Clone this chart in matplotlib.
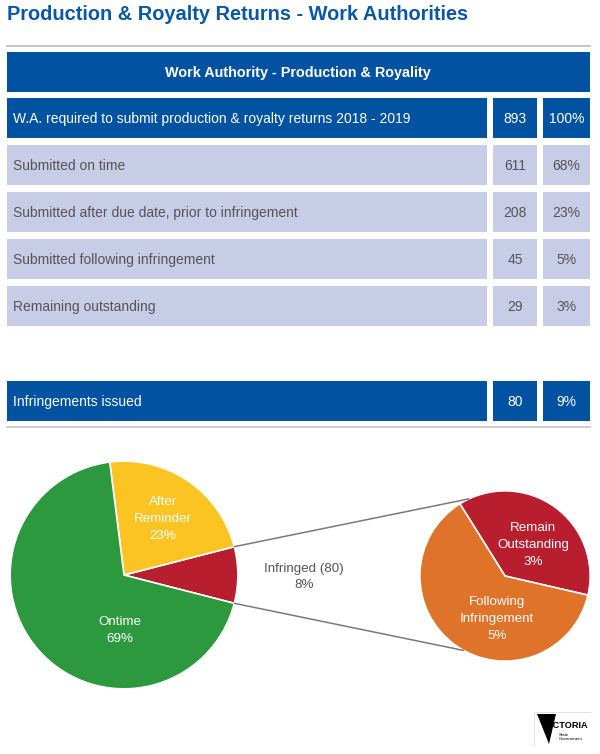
import matplotlib
matplotlib.use("Agg")
import matplotlib.pyplot as plt
from matplotlib.patches import Rectangle, Polygon, ConnectionPatch
import numpy as np

plt.rcParams['font.family'] = ['Liberation Sans', 'DejaVu Sans']

# ---- Data ----
title = "Production & Royalty Returns - Work Authorities"
table_header = "Work Authority - Production & Royality"
row_labels = ["W.A. required to submit production & royalty returns 2018 - 2019",
              "Submitted on time",
              "Submitted after due date, prior to infringement",
              "Submitted following infringement",
              "Remaining outstanding"]
row_counts = [893, 611, 208, 45, 29]
row_pcts = ["100%", "68%", "23%", "5%", "3%"]
infr_label = "Infringements issued"
infr_count = 80
infr_pct = "9%"

main_labels = ["Infringed (80)", "After\nReminder", "Ontime"]
main_values = [8, 23, 69]
sub_labels = ["Remain\nOutstanding", "Following\nInfringement"]
sub_values = [3, 5]

# ---- Styles ----
BLUE = "#0152a1"
TITLE_BLUE = "#0a57a5"
LAV = "#c7cce7"
GREY_TXT = "#555555"
main_colors = ["#b81e2d", "#fcc422", "#2c993e"]
sub_colors = ["#b81e2d", "#e0732a"]

W, H = 600, 754
fig = plt.figure(figsize=(W / 100, H / 100), dpi=100)
ax = fig.add_axes([0, 0, 1, 1])
ax.set_xlim(0, W)
ax.set_ylim(H, 0)
ax.axis("off")

# title
ax.text(7, 14, title, color=TITLE_BLUE, fontsize=14.4, fontweight="bold",
        va="center", ha="left")
ax.plot([7, 590], [46, 46], color="#bbbbbb", lw=1.2)

# table header
ax.add_patch(Rectangle((7, 52), 583, 40, color=BLUE, lw=0))
ax.text(298, 73, table_header, color="white", fontsize=10.4, fontweight="bold",
        ha="center", va="center")

col_x = [(7, 487), (493, 537), (543, 590)]


def draw_row(y, label, count, pct, fill, txt):
    for x0, x1 in col_x:
        ax.add_patch(Rectangle((x0, y), x1 - x0, 40, color=fill, lw=0))
    ax.text(13, y + 21, label, color=txt, fontsize=10, ha="left", va="center")
    ax.text((col_x[1][0] + col_x[1][1]) / 2, y + 21, str(count), color=txt,
            fontsize=10, ha="center", va="center")
    ax.text((col_x[2][0] + col_x[2][1]) / 2, y + 21, pct, color=txt,
            fontsize=10, ha="center", va="center")


row_y0 = 98
for i, (lab, cnt, pct) in enumerate(zip(row_labels, row_counts, row_pcts)):
    if i == 0:
        draw_row(row_y0 + 47 * i, lab, cnt, pct, BLUE, "white")
    else:
        draw_row(row_y0 + 47 * i, lab, cnt, pct, LAV, GREY_TXT)

draw_row(381, infr_label, infr_count, infr_pct, BLUE, "white")
ax.plot([7, 590], [427, 427], color="#c4c4c4", lw=1.2)

# ---- Pies ----
def pie_axes(cx, cy, r):
    return fig.add_axes([(cx - r) / W, (H - cy - r) / H, 2 * r / W, 2 * r / H])


lc, lr = (124, 575), 115
rc, rr = (505, 576), 86
ax1 = pie_axes(lc[0], lc[1], lr)
ax2 = pie_axes(rc[0], rc[1], rr)

start1 = -14.4
w1, _ = ax1.pie(main_values, colors=main_colors, startangle=start1,
                counterclock=True,
                wedgeprops=dict(edgecolor="white", linewidth=1.2))
start2 = -13
w2, _ = ax2.pie(sub_values, colors=sub_colors, startangle=start2,
                counterclock=True,
                wedgeprops=dict(edgecolor="white", linewidth=1.2))
for a in (ax1, ax2):
    a.set_xlim(-1.01, 1.01)
    a.set_ylim(-1.01, 1.01)
    a.set_aspect("equal")
    a.axis("off")

tk = dict(color="white", fontsize=9.6, ha="center", va="center", linespacing=1.55)
ax1.text(0.34, 0.49, f"{main_labels[1]}\n{main_values[1]}%", **tk)
ax1.text(-0.04, -0.49, f"{main_labels[2]}\n{main_values[2]}%", **tk)
ax2.text(0.33, 0.36, f"{sub_labels[0]}\n{sub_values[0]}%", **tk)
ax2.text(-0.09, -0.50, f"{sub_labels[1]}\n{sub_values[1]}%", **tk)
ax.text(304, 577, f"{main_labels[0]}\n{main_values[0]}%", color=GREY_TXT,
        fontsize=9.6, ha="center", va="center", linespacing=1.55)

# connector lines from the infringed wedge to the breakdown pie
t_lo, t_hi = np.deg2rad(w1[0].theta1), np.deg2rad(w1[0].theta2)
for tl, tr in [(t_hi, np.deg2rad(115)), (t_lo, np.deg2rad(241))]:
    con = ConnectionPatch(xyA=(np.cos(tl), np.sin(tl)), coordsA=ax1.transData,
                          xyB=(np.cos(tr), np.sin(tr)), coordsB=ax2.transData,
                          color="#7a7a7a", lw=1.1)
    fig.add_artist(con)

# ---- Victoria logo ----
ax.plot([534, 534, 590], [745, 712, 712], color="#dddddd", lw=0.6)
ax.add_patch(Polygon([[537, 714], [556, 714], [549, 744]], closed=True,
                     color="black", lw=0))
ax.text(545, 726, "VICTORIA", fontsize=6.6, fontweight="bold", color="black",
        ha="left", va="center")
ax.text(559, 737, "State\nGovernment", fontsize=3.2, color="black",
        ha="left", va="center", linespacing=1.1)

fig.savefig("out.png", dpi=100)
